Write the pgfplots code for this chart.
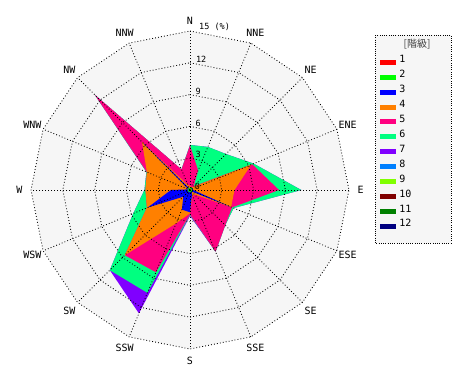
\documentclass[border=0pt]{standalone}
\usepackage{fontspec}
\usepackage{pgfplots}
\pgfplotsset{compat=1.18}
\usepackage{pgfplotstable}
\setmainfont{DejaVu Sans Mono}
\newfontfamily\cjk{Noto Sans CJK JP}
\definecolor{k1}{HTML}{FF0000}
\definecolor{k2}{HTML}{00FF00}
\definecolor{k3}{HTML}{0000FF}
\definecolor{k4}{HTML}{FF8000}
\definecolor{k5}{HTML}{FF0080}
\definecolor{k6}{HTML}{00FF80}
\definecolor{k7}{HTML}{8000FF}
\definecolor{k8}{HTML}{0080FF}
\definecolor{k9}{HTML}{80FF00}
\definecolor{k10}{HTML}{800000}
\definecolor{k11}{HTML}{008000}
\definecolor{k12}{HTML}{000080}
\definecolor{bgc}{HTML}{F6F6F6}
% cumulative percentages by direction (N, NNE, ..., NNW, N)
\pgfplotstableread{
ang    c1   c2   c3    c4    c5    c6    c7
90     0.1  0.2  0.2   0.4   4.2   4.25  4.25
67.5   0.1  0.2  0.2   0.3   2.0   4.4   4.4
45     0.1  0.3  0.3   0.4   0.5   4.8   4.8
22.5   0.1  0.2  0.3   6.25  6.35  6.5   6.5
0      0.1  0.2  0.3   4.2   8.4   10.5  10.5
-22.5  0.1  0.2  4.1   4.2   4.3   4.45  4.45
-45    0.1  0.2  0.2   0.6   4.7   4.7   4.7
-67.5  0.1  0.2  0.5   0.6   6.3   6.3   6.3
-90    0.1  0.2  2.1   2.2   2.3   2.35  2.45
-112.5 0.1  0.2  2.0   3.4   8.4   10.5  12.6
-135   0.1  0.2  0.9   8.7   8.7   10.7  10.7
-157.5 0.1  0.2  4.3   4.4   4.4   5.8   5.8
180    0.1  0.2  1.8   4.2   4.2   4.3   4.3
157.5  0.1  0.2  0.15  4.4   4.4   4.45  4.45
135    0.1  0.2  6.2   6.4   12.7  12.7  12.7
112.5  0.1  0.2  0.15  0.5   2.1   2.1   2.1
90     0.1  0.2  0.2   0.4   4.2   4.25  4.25
}\wind
\begin{document}
\begin{tikzpicture}
\begin{axis}[
  width=470pt, height=380pt, scale only axis,
  xmin=-17.925, xmax=26.415, ymin=-17.925, ymax=17.925,
  hide axis, clip=false,
  legend style={at={(axis cs:17.92,12.75)}, anchor=north west, draw=none, fill=none,
    inner sep=0pt, outer sep=0pt, row sep=0pt,
    font=\fontsize{10}{10}\selectfont,
    nodes={inner sep=0pt, text height=8pt, text depth=6.92pt},
    /tikz/every odd column/.style={column sep=3.3pt}},
  legend cell align=left,
  legend image code/.code={\fill (0pt,-2.5pt) rectangle (16pt,2.5pt);},
  grd/.style={black, line width=0.85pt, dash pattern=on 0.85pt off 2.15pt, forget plot, data cs=polar},
]
\path (rel axis cs:0,0) rectangle (rel axis cs:1,1);
% background
\addplot[fill=bgc, draw=none, data cs=polar, forget plot] table[x=ang, y expr=15]{\wind};
% stacked classes, largest first
\addplot[fill=k7, draw=none, data cs=polar, forget plot] table[x=ang, y=c7]{\wind};
\addplot[fill=k6, draw=none, data cs=polar, forget plot] table[x=ang, y=c6]{\wind};
\addplot[fill=k5, draw=none, data cs=polar, forget plot] table[x=ang, y=c5]{\wind};
\addplot[fill=k4, draw=none, data cs=polar, forget plot] table[x=ang, y=c4]{\wind};
\addplot[fill=k3, draw=none, data cs=polar, forget plot] table[x=ang, y=c3]{\wind};
\addplot[fill=k2, draw=none, data cs=polar, forget plot] table[x=ang, y=c2]{\wind};
\addplot[fill=k1, draw=none, data cs=polar, forget plot] table[x=ang, y=c1]{\wind};
% grid
\addplot[grd] table[x=ang, y expr=3]{\wind};
\addplot[grd] table[x=ang, y expr=6]{\wind};
\addplot[grd] table[x=ang, y expr=9]{\wind};
\addplot[grd] table[x=ang, y expr=12]{\wind};
\addplot[grd] table[x=ang, y expr=15]{\wind};
\addplot[grd] coordinates {(90,15) (-90,15)};
\addplot[grd] coordinates {(67.5,15) (-112.5,15)};
\addplot[grd] coordinates {(45,15) (-135,15)};
\addplot[grd] coordinates {(22.5,15) (-157.5,15)};
\addplot[grd] coordinates {(0,15) (180,15)};
\addplot[grd] coordinates {(-22.5,15) (157.5,15)};
\addplot[grd] coordinates {(-45,15) (135,15)};
\addplot[grd] coordinates {(-67.5,15) (112.5,15)};
% direction labels
\begin{scope}[every node/.style={font=\fontsize{10}{10}\selectfont, inner sep=0pt}]
\node at (axis cs:0,16.0) {N};
\node at (axis cs:6.16,14.87) {NNE};
\node at (axis cs:11.38,11.38) {NE};
\node at (axis cs:14.87,6.16) {ENE};
\node at (axis cs:16.1,0) {E};
\node at (axis cs:14.87,-6.16) {ESE};
\node at (axis cs:11.38,-11.38) {SE};
\node at (axis cs:6.16,-14.87) {SSE};
\node at (axis cs:0,-16.1) {S};
\node at (axis cs:-6.16,-14.87) {SSW};
\node at (axis cs:-11.38,-11.38) {SW};
\node at (axis cs:-14.87,-6.16) {WSW};
\node at (axis cs:-16.1,0) {W};
\node at (axis cs:-14.87,6.16) {WNW};
\node at (axis cs:-11.38,11.38) {NW};
\node at (axis cs:-6.16,14.87) {NNW};
\end{scope}
% radial tick labels
\begin{scope}[every node/.style={font=\fontsize{8.5}{9}\selectfont, inner sep=0pt, anchor=south west}]
\node at (axis cs:0.85,15) {15 (\%)};
\node at (axis cs:0.55,12) {12};
\node at (axis cs:0.5,9) {9};
\node at (axis cs:0.5,6) {6};
\node at (axis cs:0.5,3) {3};
\node at (axis cs:0.45,0) {0};
\end{scope}
% legend frame and title
\draw[black, line width=0.75pt, dash pattern=on 0.75pt off 1.5pt, fill=bgc] (axis cs:17.45,14.62) rectangle (axis cs:24.62,-5.0);
\node[font=\cjk\fontsize{10}{10}\selectfont, text=black!75, inner sep=0pt] at (axis cs:21.42,13.72) {[階級]};
\addlegendimage{fill=k1, draw=none}\addlegendentry{1}
\addlegendimage{fill=k2, draw=none}\addlegendentry{2}
\addlegendimage{fill=k3, draw=none}\addlegendentry{3}
\addlegendimage{fill=k4, draw=none}\addlegendentry{4}
\addlegendimage{fill=k5, draw=none}\addlegendentry{5}
\addlegendimage{fill=k6, draw=none}\addlegendentry{6}
\addlegendimage{fill=k7, draw=none}\addlegendentry{7}
\addlegendimage{fill=k8, draw=none}\addlegendentry{8}
\addlegendimage{fill=k9, draw=none}\addlegendentry{9}
\addlegendimage{fill=k10, draw=none}\addlegendentry{10}
\addlegendimage{fill=k11, draw=none}\addlegendentry{11}
\addlegendimage{fill=k12, draw=none}\addlegendentry{12}
\end{axis}
\end{tikzpicture}
\end{document}
